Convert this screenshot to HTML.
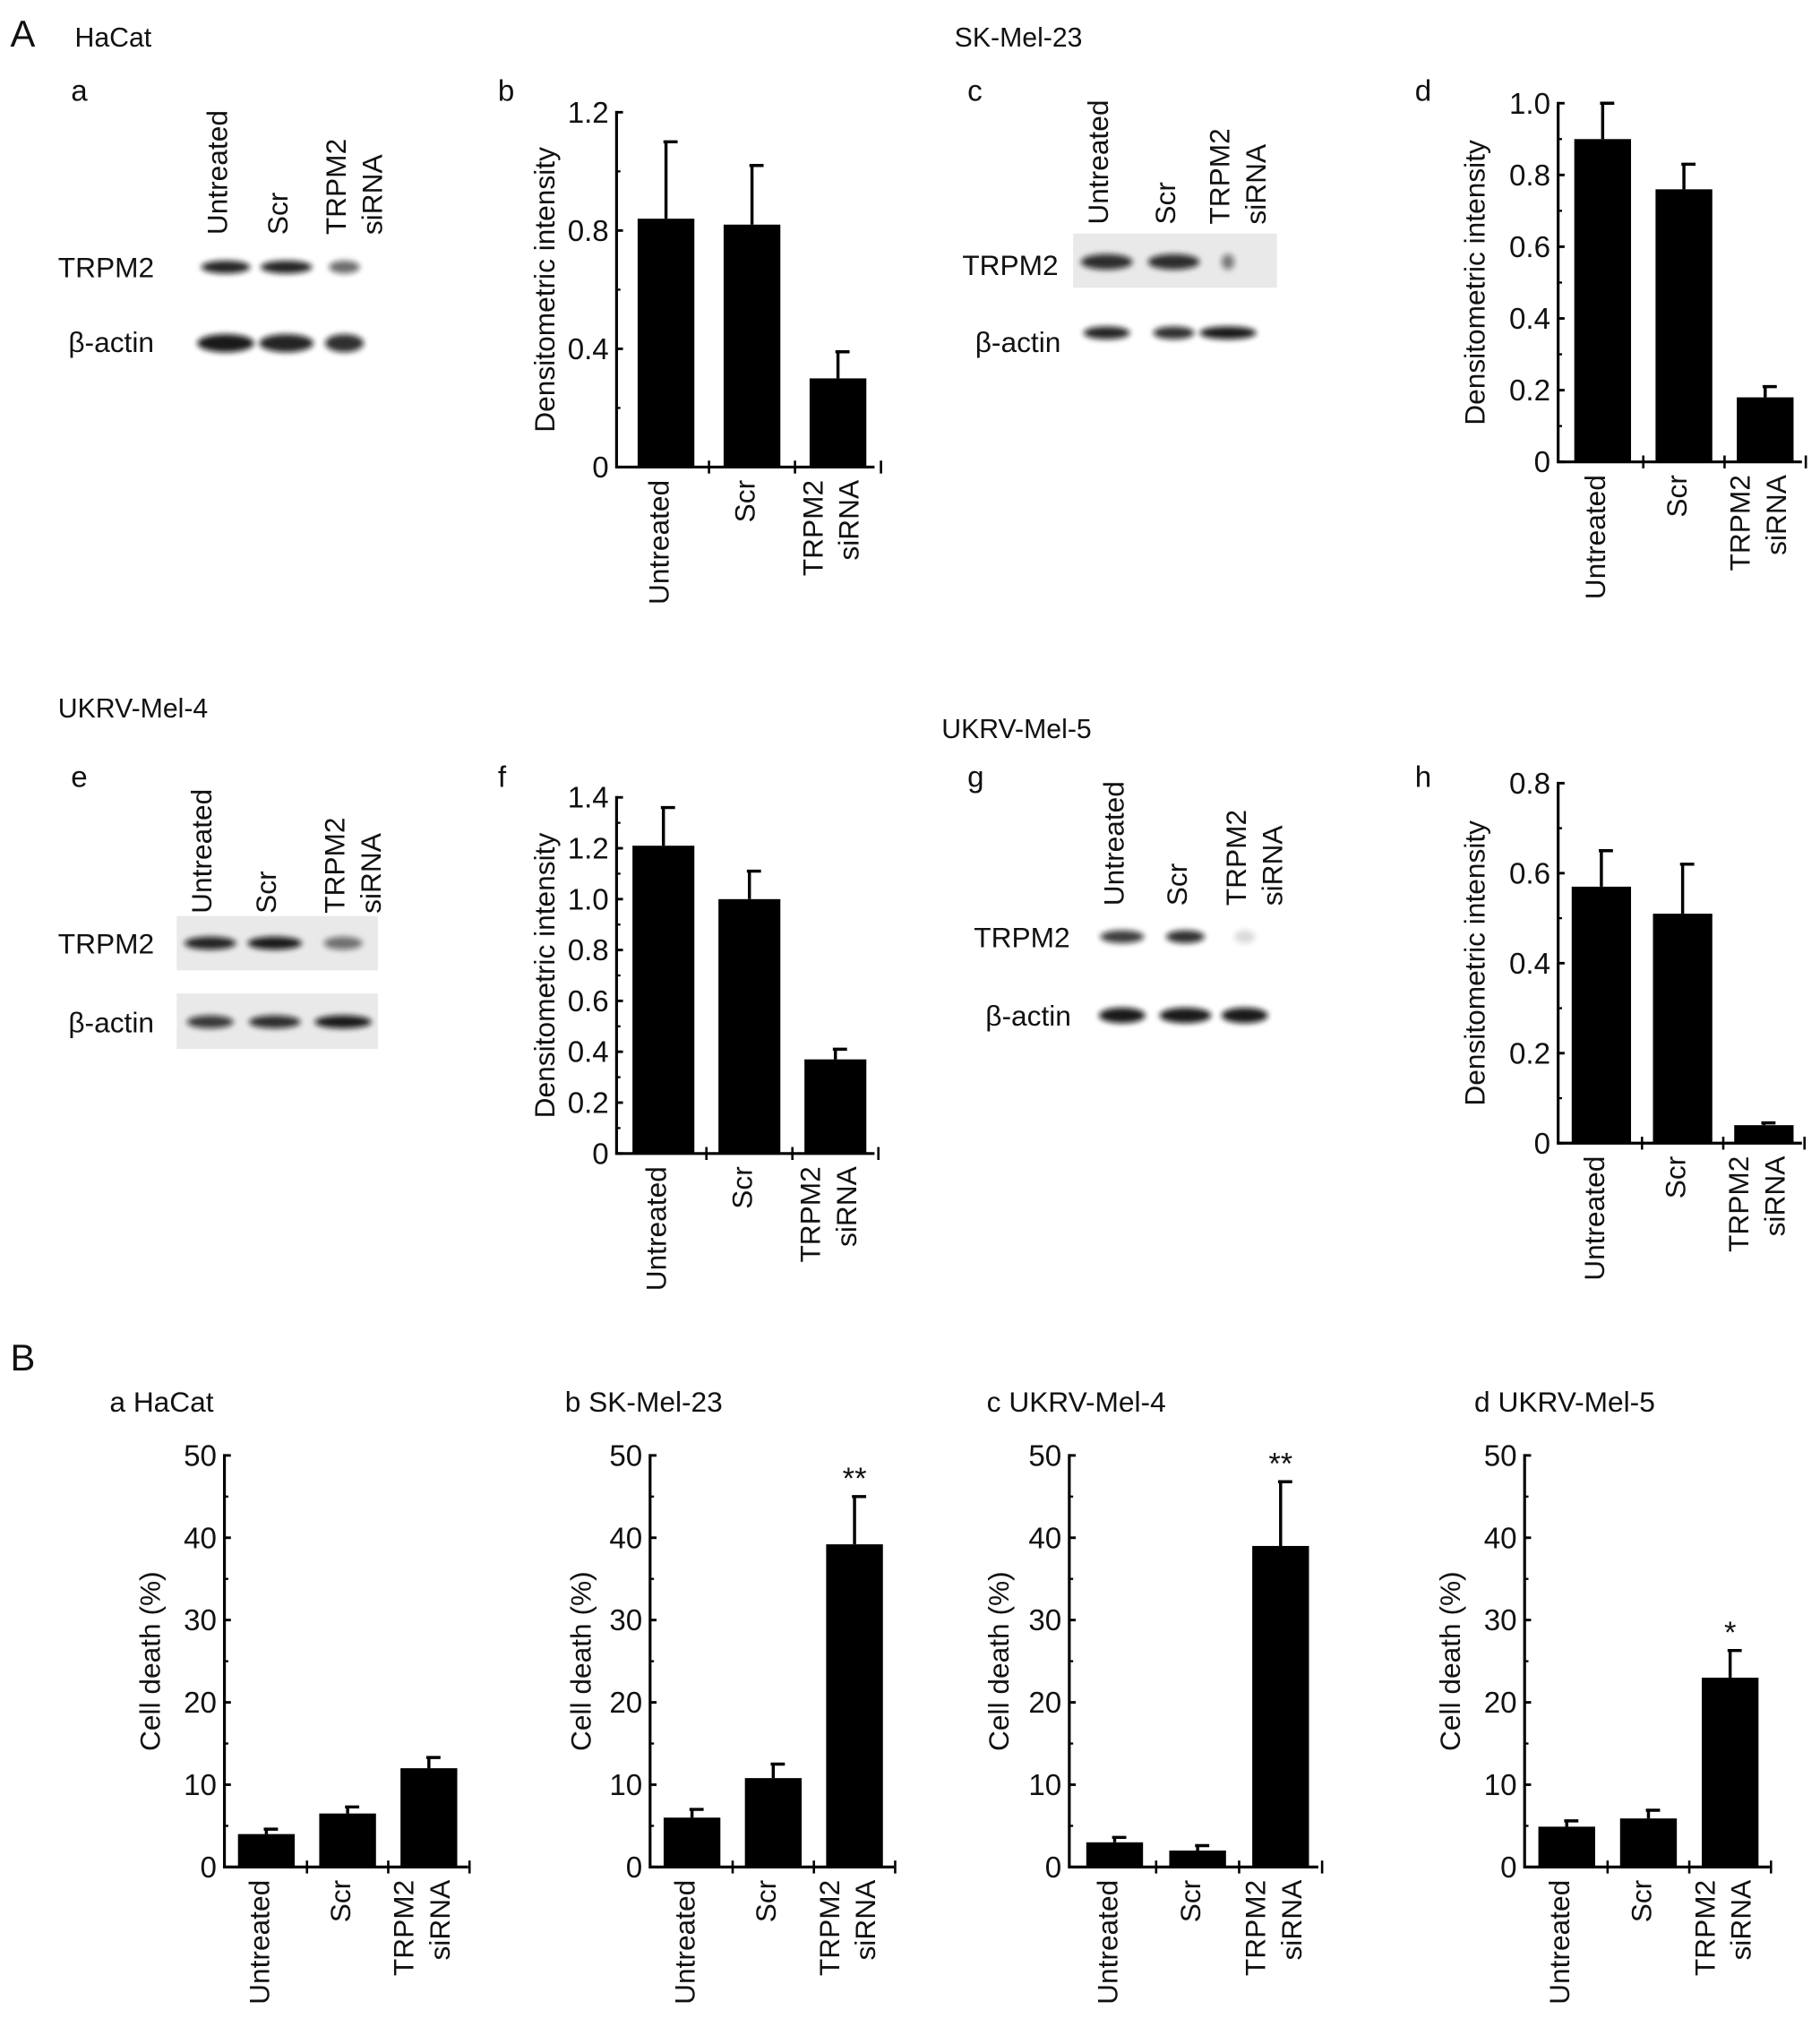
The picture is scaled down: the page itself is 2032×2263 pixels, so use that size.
<!DOCTYPE html>
<html><head><meta charset="utf-8">
<style>
html,body{margin:0;padding:0;background:#fff;}
svg{display:block;}
text{font-family:"Liberation Sans",Arial,sans-serif;fill:#111;}
</style></head>
<body>
<svg id="fig" width="2032" height="2263" viewBox="0 0 1411 1571" preserveAspectRatio="none" xmlns="http://www.w3.org/2000/svg">
<defs>
<filter id="blur" x="-30%" y="-100%" width="160%" height="300%"><feGaussianBlur stdDeviation="2.2"/></filter>
</defs>
<g id="static">
<text x="8" y="36" font-size="29">A</text>
<text x="8" y="1062" font-size="29">B</text>
<text x="58" y="36" font-size="21">HaCat</text>
<text x="740" y="36" font-size="21">SK-Mel-23</text>
<text x="45" y="556" font-size="21">UKRV-Mel-4</text>
<text x="730" y="572" font-size="21">UKRV-Mel-5</text>
</g>
<g id="blots"></g>
<g id="charts"></g>
</svg>
<script>
// ---------- Chart data ----------
const categories = ["Untreated", "Scr", "TRPM2 siRNA"];
const Ab_values = [0.84, 0.82, 0.30];
const Ab_errors = [1.10, 1.02, 0.39];
const Ab_ticks = ["0", "0.4", "0.8", "1.2"];
const Ad_values = [0.90, 0.76, 0.18];
const Ad_errors = [1.00, 0.83, 0.21];
const Ad_ticks = ["0", "0.2", "0.4", "0.6", "0.8", "1.0"];
const Af_values = [1.21, 1.00, 0.37];
const Af_errors = [1.36, 1.11, 0.41];
const Af_ticks = ["0", "0.2", "0.4", "0.6", "0.8", "1.0", "1.2", "1.4"];
const Ah_values = [0.57, 0.51, 0.04];
const Ah_errors = [0.65, 0.62, 0.045];
const Ah_ticks = ["0", "0.2", "0.4", "0.6", "0.8"];
const Ba_values = [4.0, 6.5, 12.0];
const Ba_errors = [4.6, 7.3, 13.3];
const Bb_values = [6.0, 10.8, 39.2];
const Bb_errors = [7.0, 12.5, 45.0];
const Bc_values = [3.0, 2.0, 39.0];
const Bc_errors = [3.6, 2.6, 46.8];
const Bd_values = [4.9, 5.9, 23.0];
const Bd_errors = [5.6, 6.9, 26.3];
const B_ticks = ["0", "10", "20", "30", "40", "50"];
const Bb_sig = ["", "", "**"];
const Bc_sig = ["", "", "**"];
const Bd_sig = ["", "", "*"];

const NS = "http://www.w3.org/2000/svg";
function mk(tag, attrs, parent, txt){
  const e = document.createElementNS(NS, tag);
  for (const k in attrs) e.setAttribute(k, attrs[k]);
  if (txt !== undefined) e.textContent = txt;
  parent.appendChild(e);
  return e;
}

function rotLabel(parent, x, yTop, lines, name){
  const g = mk("g", {}, parent);
  
  
  lines.forEach((ln, i) => {
    const lx = x + (lines.length === 2 ? (i === 0 ? -14 : 14) : 0) + 8;
    mk("text", {x: 0, y: 0, "font-size": 22, "text-anchor": "end",
      transform: "translate(" + lx + "," + yTop + ") rotate(-90)"}, g, ln);
  });
  return g;
}

function drawChart(o){
  const root = document.getElementById("charts");
  const g = mk("g", {}, root);
  
  
  const max = o.max;
  const yS = v => o.y0 - (v / max) * (o.y0 - o.yTop);
  const tt = mk("text", {x: o.titleX, y: o.titleY, "font-size": o.titleSize || 23}, g, o.title);
  
  
  const ax = mk("path", {d: "M" + o.ax + "," + (o.yTop - 1) + "V" + o.y0 + "H" + o.axEnd, stroke: "#000", "stroke-width": 2.2, fill: "none"}, g);
  
  
  const n = o.ticks.length;
  o.ticks.forEach((lab, i) => {
    const v = max * i / (n - 1);
    const y = yS(v);
    mk("line", {x1: o.ax, x2: o.ax + 5, y1: y, y2: y, stroke: "#000", "stroke-width": 2}, g);
    const t = mk("text", {x: o.ax - 6, y: y + 8, "font-size": 23, "text-anchor": "end"}, g, lab);
    
    
    if (i < n - 1) {
      const ym = yS(v + max / (n - 1) / 2);
      mk("line", {x1: o.ax, x2: o.ax + 3, y1: ym, y2: ym, stroke: "#000", "stroke-width": 1.6}, g);
    }
  });
  const yt = mk("text", {x: 0, y: 0, "font-size": 22, "text-anchor": "middle",
    transform: "translate(" + o.yTitleX + "," + ((o.y0 + o.yTop) / 2) + ") rotate(-90)"}, g, o.yTitle);
  
  
  const span = (o.axEnd - o.ax) / categories.length;
  const off = o.off || 0;
  categories.forEach((c, i) => {
    const cx = o.ax + span * (i + 0.5) + off;
    const w = o.bw;
    const x0 = cx - w / 2;
    const top = yS(o.values[i]);
    const b = mk("rect", {x: x0, y: top, width: w, height: o.y0 - top, fill: "#000"}, g);
    
    
    const et = yS(o.errors[i]);
    const eb = mk("path", {d: "M" + cx + "," + top + "V" + et + "M" + (cx - 2) + "," + et + "H" + (cx + 9), stroke: "#000", "stroke-width": 2.4, fill: "none"}, g);
    
    
    if (o.sig && o.sig[i]) {
      const s = mk("text", {x: cx, y: et - 6, "font-size": 24, "text-anchor": "middle"}, g, o.sig[i]);
      
      
    }
    const bx = o.ax + span * (i + 1) + off;
    mk("line", {x1: bx, x2: bx, y1: o.y0 - 5, y2: o.y0 + 5, stroke: "#000", "stroke-width": 1.8}, g);
    const lines = c === "TRPM2 siRNA" ? ["TRPM2", "siRNA"] : [c];
    rotLabel(g, cx - 6, o.y0 + 10, lines, 'x-tick-label');
  });
}

const DI = "Densitometric intensity", CD = "Cell death (%)";
drawChart({name:"chart-Ab", title:"b", titleX:386, titleY:78, ax:478, axEnd:678, y0:362, yTop:87, max:1.2, ticks:Ab_ticks, values:Ab_values, errors:Ab_errors, bw:44, off:5, yTitleX:430, yTitle:DI});
drawChart({name:"chart-Ad", title:"d", titleX:1097, titleY:78, ax:1208, axEnd:1397, y0:358, yTop:80, max:1.0, ticks:Ad_ticks, values:Ad_values, errors:Ad_errors, bw:44, off:3, yTitleX:1151, yTitle:DI});
drawChart({name:"chart-Af", title:"f", titleX:386, titleY:610, ax:478, axEnd:678, y0:894, yTop:618, max:1.4, ticks:Af_ticks, values:Af_values, errors:Af_errors, bw:48, off:3, yTitleX:430, yTitle:DI});
drawChart({name:"chart-Ah", title:"h", titleX:1097, titleY:610, ax:1208, axEnd:1397, y0:886, yTop:607, max:0.8, ticks:Ah_ticks, values:Ah_values, errors:Ah_errors, bw:46, off:2, yTitleX:1151, yTitle:DI});
drawChart({name:"chart-Ba", title:"a HaCat", titleX:85, titleY:1094, ax:174, axEnd:363, y0:1447, yTop:1128, max:50, ticks:B_ticks, values:Ba_values, errors:Ba_errors, bw:44, off:1, yTitleX:124, yTitle:CD, titleSize:22});
drawChart({name:"chart-Bb", title:"b SK-Mel-23", titleX:438, titleY:1094, ax:504, axEnd:693, y0:1447, yTop:1128, max:50, ticks:B_ticks, values:Bb_values, errors:Bb_errors, bw:44, off:1, sig:Bb_sig, yTitleX:458, yTitle:CD, titleSize:22});
drawChart({name:"chart-Bc", title:"c UKRV-Mel-4", titleX:765, titleY:1094, ax:829, axEnd:1022, y0:1447, yTop:1128, max:50, ticks:B_ticks, values:Bc_values, errors:Bc_errors, bw:44, off:3, sig:Bc_sig, yTitleX:782, yTitle:CD, titleSize:22});
drawChart({name:"chart-Bd", title:"d UKRV-Mel-5", titleX:1143, titleY:1094, ax:1182, axEnd:1372, y0:1447, yTop:1128, max:50, ticks:B_ticks, values:Bd_values, errors:Bd_errors, bw:44, off:1, sig:Bd_sig, yTitleX:1132, yTitle:CD, titleSize:22});

// ---------- Western blots ----------
function blot(o){
  const root = document.getElementById("blots");
  const g = mk("g", {}, root);
  
  
  const l = mk("text", {x: o.letterX, y: o.letterY, "font-size": 23}, g, o.letter);
  
  
  categories.forEach((c, i) => {
    const lines = c === "TRPM2 siRNA" ? ["TRPM2", "siRNA"] : [c];
    const x = o.lanes[i] + (lines.length === 2 ? 7 : -7);
    const g2 = mk("g", {}, g);
    
    
    lines.forEach((ln, j) => {
      const lx = x + (lines.length === 2 ? (j === 0 ? -14 : 14) : 0) + 8;
      mk("text", {x: 0, y: 0, "font-size": 22, transform: "translate(" + lx + "," + o.labelBottom + ") rotate(-90)"}, g2, ln);
    });
  });
  o.rows.forEach(r => {
    if (r.box) {
      const bx = mk("rect", {x: r.box[0], y: r.box[1], width: r.box[2], height: r.box[3], fill: "#e9e9e9"}, g);
      
      
    }
    const t = mk("text", {x: r.lx, y: r.y + 8, "font-size": 22}, g, r.label);
    
    
    r.int.forEach((a, i) => {
      const e = mk("ellipse", {cx: o.lanes[i], cy: r.by, rx: r.rx[i], ry: r.ry, fill: "#111", opacity: a, filter: "url(#blur)"}, g);
      
      
    });
  });
}
blot({name:"blot-Aa", letter:"a", letterX:55, letterY:78, lanes:[175,222,267], labelBottom:182,
  rows:[{label:"TRPM2", lx:45, y:207, by:207, ry:5, rx:[19,20,12], int:[0.9,0.9,0.6]},
        {label:"β-actin", lx:53, y:265, by:266, ry:7, rx:[22,21,15], int:[0.95,0.9,0.85]}]});
blot({name:"blot-Ac", letter:"c", letterX:750, letterY:78, lanes:[858,910,952], labelBottom:174,
  rows:[{label:"TRPM2", lx:746, y:205, by:203, ry:6, rx:[20,20,5], int:[0.85,0.85,0.5], box:[832,181,158,42]},
        {label:"β-actin", lx:756, y:265, by:258, ry:5, rx:[18,16,22], int:[0.9,0.85,0.95]}]});
blot({name:"blot-Ae", letter:"e", letterX:55, letterY:610, lanes:[163,213,266], labelBottom:708,
  rows:[{label:"TRPM2", lx:45, y:731, by:731, ry:5, rx:[20,21,15], int:[0.9,0.95,0.55], box:[137,710,156,42]},
        {label:"β-actin", lx:53, y:792, by:792, ry:5, rx:[18,20,22], int:[0.8,0.85,0.95], box:[137,770,156,43]}]});
blot({name:"blot-Ag", letter:"g", letterX:750, letterY:610, lanes:[870,919,965], labelBottom:702,
  rows:[{label:"TRPM2", lx:755, y:726, by:726, ry:5, rx:[17,15,8], int:[0.8,0.85,0.15]},
        {label:"β-actin", lx:764, y:787, by:787, ry:6, rx:[18,20,18], int:[0.95,0.95,0.95]}]});
</script>
</body></html>
